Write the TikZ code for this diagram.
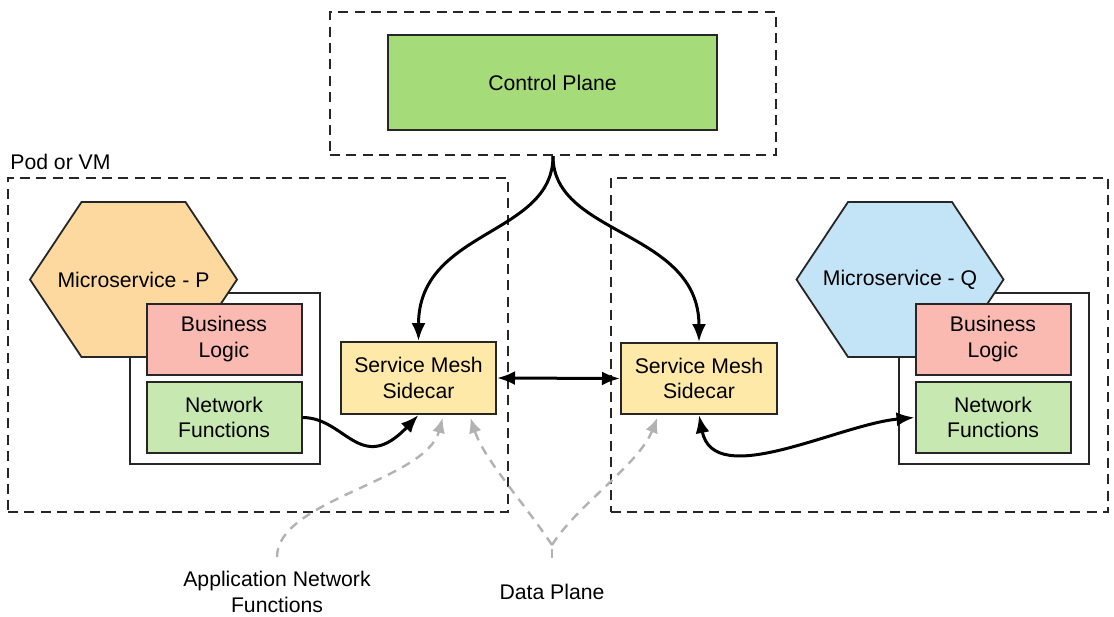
\documentclass[tikz,border=0pt]{standalone}
\usepackage{fontspec}
\setmainfont{Liberation Sans}
\usetikzlibrary{arrows.meta,positioning}
\definecolor{cpgreen}{RGB}{166,219,122}
\definecolor{blpink}{RGB}{250,186,178}
\definecolor{nfgreen}{RGB}{199,232,176}
\definecolor{carfill}{RGB}{254,233,168}
\definecolor{peach}{RGB}{253,217,160}
\definecolor{skyblue}{RGB}{195,228,246}

\begin{document}
\begin{tikzpicture}[x=0.5pt, y=-0.5pt, font=\fontsize{10.6}{12.8}\selectfont,
  >={Latex[length=9pt,width=7pt]},
  zone/.style={draw=black!85, line width=1.2pt, dash pattern=on 5pt off 3.2pt},
  box/.style={draw=black!85, line width=1pt, align=center, inner sep=0pt},
  hexa/.style={draw=black!85, line width=0.9pt},
  ctl/.style={line width=1.5pt, ->},
  hint/.style={draw=gray!60, line width=1.2pt, dash pattern=on 4.5pt off 3.5pt},
  hintarrow/.style={hint, -{Latex[length=7.5pt,width=6.5pt]}, shorten >=1.5pt}]
  \useasboundingbox (0,0) rectangle (1114,616);
  % zones: control plane on top, one pod or VM for each microservice
  \node[zone, minimum width=223pt, minimum height=71.5pt] (cpzone) at (553,83.5) {};
  \node[zone, minimum width=250pt, minimum height=167pt] (podp) at (258,345) {};
  \node[zone, minimum width=248.5pt, minimum height=167pt] (podq) at (859.5,345) {};
  \node[anchor=west, inner sep=0pt] (podlabel) at (10,162) {Pod or VM};
  \node[box, fill=cpgreen, minimum width=164.5pt, minimum height=47.5pt] (cp) at (552.5,82.5) {Control Plane};
  % microservice P and Q: app box, hexagon, business logic and network functions
  \foreach \cx/\hx/\col/\s/\t in {224.5/133.5/peach/p/P, 993.5/900/skyblue/q/Q} {
    \node[box, fill=white, minimum width=95pt, minimum height=85.5pt] (app\s) at (\cx,378.5) {};
    \draw[hexa, fill=\col] (\hx-103.5,279.5) -- (\hx-52,202) -- (\hx+52,202) -- (\hx+103.5,279.5)
      -- (\hx+52,357) -- (\hx-52,357) -- cycle;
    \node (ms\s) at (\hx,279.5) {Microservice - \t};
    \node[box, fill=blpink, minimum width=77.5pt, minimum height=35.5pt] (bl\s) at (\cx-0.5,339) {Business\\Logic};
    \node[box, fill=nfgreen, minimum width=77.5pt, minimum height=35.5pt] (nf\s) at (\cx-0.5,417.5) {Network\\Functions};
  }
  \node[box, fill=carfill, minimum width=77.5pt, minimum height=36pt] (smsl) at (418.5,378) {Service Mesh\\Sidecar};
  \node[box, fill=carfill, minimum width=78pt, minimum height=35.5pt] (smsr) at (699,378.5) {Service Mesh\\Sidecar};
  % control and data plane links
  \draw[ctl] (cpzone.south) .. controls +(0,80) and +(0,-112) .. (smsl.north);
  \draw[ctl] (cpzone.south) .. controls +(0,80) and +(0,-112) .. (smsr.north);
  \draw[ctl, <->] (smsl.east) -- (smsr.west);
  \draw[ctl] (nfp.east) .. controls +(43,0) and +(-58,61) .. (smsl.south);
  \draw[ctl, <->] (smsr.south) .. controls +(15,76) and +(-76,7) .. (nfq.west);
  % callouts
  \node[align=center] (anlabel) at (277,592) {Application Network\\Functions};
  \node (dplabel) at (552,592) {Data Plane};
  \coordinate (anfoot) at (277,557);
  \coordinate (dpfoot) at (552,558);
  \coordinate (dpfork) at (552,545);
  \draw[hintarrow] (anfoot) .. controls +(0,-57) and +(-18,66) .. (smsl.-56);
  \draw[hint] (dpfoot) -- (dpfork);
  \draw[hintarrow] (dpfork) .. controls +(-30,-45) and +(15,45) .. (smsl.-36);
  \draw[hintarrow] (dpfork) .. controls +(25,-40) and +(-20,50) .. (smsr.-138);
\end{tikzpicture}
\end{document}
